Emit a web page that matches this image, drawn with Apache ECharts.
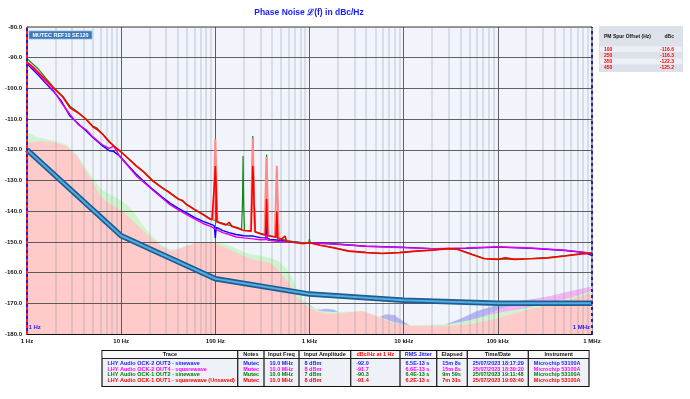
<!DOCTYPE html>
<html><head><meta charset="utf-8">
<script src="https://cdn.jsdelivr.net/npm/echarts@6/dist/echarts.min.js"></script>
<style>html,body{margin:0;padding:0;background:#fff}#c{width:690px;height:399px}</style>
</head><body><div id="c"></div>
<script>
// ---------- DATA ----------
const chartTitle = 'Phase Noise \u2112(f) in dBc/Hz';
const xTickLabels = ['1 Hz','10 Hz','100 Hz','1 kHz','10 kHz','100 kHz','1 MHz'];
const yMin = -180, yMax = -80, yStep = 10;

const refName = 'MUTEC REF10 SE120';
const refTrace = [[1,-120],[10,-148],[100,-162],[1000,-167],[10000,-169],[100000,-170],[1000000,-170]];

const blueTrace = [[1,-92],[1.3,-95.5],[1.6,-98.5],[1.9,-100.9],[2.3,-104],[2.86,-109],[3.5,-111.5],[4.25,-113.9],[5,-116],[6.4,-118.8],[7.5,-120.3],[8.3,-120.5],[9.7,-122.1],[12,-125.3],[14.5,-128],[17,-130],[21.7,-132.9],[27,-135.3],[32.7,-137.3],[40,-139],[49,-140.5],[60,-142],[74,-143.3],[90,-144.3],[97,-144.7],[99,-147],[100,-148.7],[101,-147],[103,-145.3],[120,-146.3],[140,-147],[166,-147.6],[200,-148],[252,-148.1],[300,-148.6],[345,-148.7],[350,-145],[355,-148.8],[380,-149.2],[450,-149.4],[570,-149.8],[700,-150],[860,-150.3],[1000,-150.3],[1770,-150.6],[4000,-151.4],[9100,-151.7],[20000,-152.2],[46000,-152.1],[100000,-151.7],[227000,-152.1],[520000,-152.8],[850000,-153.5],[1000000,-154.5]];

const magentaTrace = [[1,-91.7],[1.3,-95],[1.6,-98.2],[1.9,-100.6],[2.3,-104.5],[2.86,-108.5],[3.5,-111.8],[4.25,-113.5],[5,-115.8],[6.4,-118.5],[7.5,-119.5],[8.3,-118.8],[9,-120.5],[9.7,-122.3],[12,-125.5],[14.5,-128.5],[17,-130.3],[21.7,-133.2],[27,-135.6],[32.7,-137.8],[40,-139.5],[49,-141],[60,-142.5],[74,-144],[90,-145],[100,-145.8],[120,-147],[140,-147.6],[166,-148.4],[200,-148.7],[252,-149],[300,-149.3],[345,-149.2],[350,-147.5],[355,-149.4],[450,-149.8],[570,-150],[700,-150.2],[1000,-150.3],[1770,-150.7],[4000,-151.4],[9100,-151.8],[20000,-152.2],[46000,-152],[100000,-151.6],[227000,-152],[520000,-152.7],[850000,-153.4],[1000000,-153.7]];

const greenTrace = [[1,-90.3],[1.3,-93.5],[1.6,-96.8],[1.9,-99.5],[2.4,-102.5],[2.86,-105.8],[3.5,-107.8],[4.25,-110],[5,-112.3],[5.5,-112.8],[6.4,-115],[7.5,-117.3],[8.5,-118.8],[9.7,-120.3],[12,-122.8],[14.5,-125.2],[17,-126.8],[21.7,-130],[27,-132.2],[32.7,-133.8],[40,-135.8],[49,-137.6],[60,-139.3],[74,-140.9],[90,-142.6],[100,-143],[111,-143.6],[130,-144.3],[166,-145.2],[190,-145.8],[194,-138],[197,-122],[200,-138],[204,-146.2],[240,-146.4],[245,-130],[250,-115.5],[255,-128],[260,-138],[265,-146.6],[300,-147.2],[340,-147.6],[345,-138],[350,-121.5],[355,-138],[360,-147.9],[440,-148.4],[500,-149],[570,-149.6],[700,-150],[860,-150.4],[980,-150.2],[1000,-149],[1020,-150.3],[1290,-151],[1770,-151.8],[2600,-152.9],[4000,-153.4],[5900,-153.7],[9100,-153.4],[13600,-153],[20000,-152.6],[30000,-152.2],[37000,-152.3],[53000,-154],[72000,-155.4],[100000,-155.6],[150000,-155.6],[227000,-155.4],[340000,-155.1],[520000,-154.5],[780000,-153.8],[1000000,-153.6]];

const redTrace = [[1,-91.4],[1.2,-93.5],[1.5,-96.5],[1.9,-99.8],[2.4,-102.8],[2.86,-106.3],[3.5,-108],[4.25,-110.1],[5,-112.5],[5.5,-113.3],[6.4,-115],[7.5,-117.5],[8.5,-119],[9.7,-120.4],[12,-123],[14.5,-125.3],[17,-127],[21.7,-130.2],[27,-132.3],[32.7,-134],[40,-136],[45,-136.5],[49,-137.8],[60,-139.5],[74,-141.1],[85,-142.3],[92,-142.8],[96,-143],[98.5,-130],[100,-125.3],[101.5,-130],[104,-143.5],[111,-143.8],[130,-144.5],[140,-143.6],[150,-145],[166,-145.4],[200,-146.3],[240,-146.5],[246,-133],[250,-125.3],[254,-130],[258,-138],[265,-146.8],[300,-147.3],[340,-147.8],[346,-142],[350,-136],[354,-142],[360,-148],[380,-148.1],[440,-148.5],[450,-140],[460,-148.8],[500,-149.2],[550,-148.1],[570,-149.8],[700,-150.2],[860,-150.6],[1000,-150.3],[1290,-151.1],[1770,-151.9],[2600,-153],[4000,-153.5],[5900,-153.8],[9100,-153.5],[13600,-153],[20000,-152.7],[30000,-152.2],[37000,-152.4],[53000,-154.1],[72000,-155.5],[100000,-155.7],[120000,-155.2],[125000,-155.8],[150000,-155.7],[227000,-155.5],[340000,-155.2],[520000,-154.6],[780000,-153.9],[1000000,-153.8]];

// PM spur table (max-hold spur peaks on red trace)
const spurOffsets = [100, 250, 350, 450];
const spurDbc = [-116.6, -116.3, -122.3, -125.2];
const redSpurMax = [
  [[95,-143],[100,-116.6],[105,-143.5]],
  [[238,-146.5],[250,-116.3],[262,-146.8]],
  [[333,-147.8],[350,-122.3],[367,-148]],
  [[428,-148.5],[450,-125.2],[472,-148.8]]
];

// noise-floor shaded areas
const pinkFloor = [[1,-117.5],[1.4,-117.2],[1.9,-117.5],[2.6,-118.8],[3.4,-122.1],[4.3,-127.5],[5.2,-131.5],[6,-135.1],[7.5,-137.5],[9.6,-139.4],[12,-141.8],[14.6,-144.3],[18,-147],[22,-149.2],[27,-151.5],[33,-153],[40,-152.5],[49,-151.4],[60,-150.5],[70,-150.2],[85,-150.2],[103,-150.5],[130,-152],[168,-153.5],[210,-154.8],[252,-155.7],[300,-156.2],[377,-156.8],[450,-158.5],[500,-160.5],[565,-162.2],[650,-165],[733,-167.7],[850,-170],[1000,-171.5],[1290,-173],[1770,-173.6],[2700,-172.9],[3700,-172.6],[5100,-174.2],[7700,-176.3],[11500,-177.3],[30000,-177.3],[50000,-176.8],[76000,-175.8],[160000,-173.1],[350000,-170.4],[680000,-168.2],[1000000,-166.6]];
const greenFloor = [[1,-114.2],[1.3,-116],[1.9,-117],[2.6,-118.3],[3.4,-121.5],[4.3,-126.5],[5.2,-130],[6,-132.5],[7.5,-134.5],[9.6,-136.2],[12,-138.5],[14.6,-141.5],[18,-145.5],[22,-148.5],[27,-151],[33,-152.5],[40,-152.2],[49,-151.2],[60,-150.3],[85,-150],[103,-150],[130,-150.8],[168,-152.2],[210,-153.5],[252,-154.2],[300,-154.5],[377,-155.2],[450,-156],[500,-157],[565,-158.5],[650,-161.5],[733,-165],[850,-169],[1000,-170.8],[1290,-172.5],[1770,-172.8],[2700,-172.7],[3700,-172.5],[5100,-174],[7700,-176],[11500,-177.2],[30000,-176.8],[50000,-175.5],[100000,-173.2],[200000,-171.5],[400000,-169.5],[700000,-167.5],[1000000,-165.8]];
const lavenderFloor = [[1,-130],[10,-150],[30,-158],[100,-158],[300,-162],[600,-167],[1000,-172],[1300,-172],[1500,-171.8],[1800,-172],[2200,-173.5],[3000,-175],[5000,-175],[6500,-173.6],[8000,-173.8],[10000,-176],[12000,-177.5],[25000,-177.5],[40000,-175],[60000,-172.5],[100000,-170.5],[150000,-169.5],[250000,-168.5],[500000,-167],[1000000,-165.5]];
const magentaFloor = [[1,-130],[10,-150],[100,-158],[300,-162],[600,-166],[800,-168.5],[1000,-170.5],[1300,-172.8],[1800,-173.2],[3000,-173.5],[5000,-174.8],[8000,-176.5],[12000,-177.4],[30000,-177.2],[60000,-175],[100000,-172],[200000,-169.5],[400000,-167.3],[700000,-165.5],[1000000,-164.5]];

// bottom legend table
const tableHeaders = ['Trace','Notes','Input Freq','Input Amplitude','dBc/Hz at 1 Hz','RMS Jitter','Elapsed','Time/Date','Instrument'];
const traceNames = ['LHY Audio OCK-2 OUT3 - sinewave','LHY Audio OCK-2 OUT4 - squarewave','LHY Audio OCK-1 OUT2 - sinewave','LHY Audio OCK-1 OUT1 - squarewave (Unsaved)'];
const notes = ['Mutec','Mutec','Mutec','Mutec'];
const inputFreq = ['10.0 MHz','10.0 MHz','10.0 MHz','10.0 MHz'];
const inputAmp = ['8 dBm','8 dBm','7 dBm','8 dBm'];
const dbcAt1Hz = ['-92.0','-91.7','-90.3','-91.4'];
const rmsJitter = ['6.5E-13 s','6.6E-13 s','6.4E-13 s','6.2E-13 s'];
const elapsed = ['15m 8s','15m 8s','9m 59s','7m 31s'];
const timeDate = ['25/07/2023 18:17:29','25/07/2023 18:39:20','25/07/2023 19:11:48','25/07/2023 19:03:40'];
const instrument = ['Microchip 53100A','Microchip 53100A','Microchip 53100A','Microchip 53100A'];

// ---------- STYLE ----------
const FONT = '"Liberation Sans", Arial, sans-serif';
const traceColors = ['#0000ff','#e600e6','#138a13','#ff0000'];
const traceWidths = [1.4, 1.4, 1.2, 1.6];
const textColors = ['#1a1aff','#ff00ff','#008000','#ff0000'];

const chart = echarts.init(document.getElementById('c'), null, {renderer:'canvas'});

const minorX = [];
for (let d = 1; d < 1e6; d *= 10) for (let k = 2; k <= 9; k++) minorX.push(d*k);
const majorX = [10,100,1000,10000,100000];
const majorY = [];
for (let v = yMin + yStep; v < yMax; v += yStep) majorY.push(v);

function areaSeries(data, color) {
  return {type:'line', data, showSymbol:false, symbol:'none', z:2, silent:true,
    lineStyle:{width:0}, areaStyle:{color, opacity:1, origin:'start'}};
}
function traceSeries(data, i, z) {
  return {type:'line', data, showSymbol:false, symbol:'none', z, silent:true,
    lineStyle:{width:traceWidths[i], color:traceColors[i]}};
}

const series = [
  areaSeries(lavenderFloor, '#b6b6f6'),
  areaSeries(magentaFloor, '#f3b6f3'),
  areaSeries(greenFloor, '#cff5cf'),
  areaSeries(pinkFloor, '#ffcaca'),
  {type:'line', data:[], z:3, silent:true,
    markLine:{silent:true, symbol:['none','none'], z:3, animation:false, label:{show:false}, emphasis:{disabled:true},
      data: minorX.map(v=>({xAxis:v, lineStyle:{color:'rgba(130,140,158,0.28)', width:1.6, type:'solid'}}))
        .concat(majorX.map(v=>({xAxis:v, lineStyle:{color:'rgba(70,70,70,0.85)', width:1, type:'solid'}})))
        .concat(majorY.map(v=>({yAxis:v, lineStyle:{color:'rgba(70,70,70,0.85)', width:1, type:'solid'}})))
    }},
  {type:'line', data:refTrace, showSymbol:false, z:4, silent:true, lineStyle:{width:5.5, color:'#1d5d94'}},
  {type:'line', data:refTrace, showSymbol:false, z:4, silent:true, lineStyle:{width:2, color:'#55acdf'}},
  traceSeries(blueTrace, 0, 6),
  traceSeries(magentaTrace, 1, 7),
  traceSeries(greenTrace, 2, 8),
  ...redSpurMax.map(d => ({type:'line', data:d, showSymbol:false, z:8.5, silent:true, lineStyle:{width:2, color:'#ff8a8a'}})),
  traceSeries(redTrace, 3, 9),
  {type:'line', data:[], z:11, silent:true,
    markLine:{silent:true, symbol:['none','none'], z:11, animation:false, label:{show:false}, emphasis:{disabled:true},
      data:[
        {xAxis:1, lineStyle:{color:'#ff2020', width:2, type:[3,3]}},
        {xAxis:1, lineStyle:{color:'#2020d0', width:2, type:[3,3], dashOffset:3}},
        {xAxis:1000000, lineStyle:{color:'#2020c0', width:2, type:[3,3]}}
      ]}}
];

// ---------- graphics (titles, tables) ----------
const g = [];
function txt(x, y, s, fill, size, align, weight) {
  g.push({type:'text', x, y, silent:true, z:50, style:{text:s, fill, font:(weight||'bold')+' '+size+'px '+FONT,
    textAlign:align||'left', textVerticalAlign:'middle', verticalAlign:'middle'}});
}
function rect(x, y, w, h, fill, stroke, lw) {
  g.push({type:'rect', silent:true, z:40, shape:{x, y, width:w, height:h}, style:{fill, stroke:stroke||null, lineWidth:lw||0}});
}
function line(x1, y1, x2, y2, stroke, lw) {
  g.push({type:'line', silent:true, z:45, shape:{x1, y1, x2, y2}, style:{stroke, lineWidth:lw}});
}

txt(309, 13, chartTitle, '#1a1aff', 8.5, 'center', 'bold');

// MUTEC label
rect(29, 31, 63, 8, '#3a78b8', '#8fb8e0', 0.8);
txt(60.5, 35.2, refName, '#ffffff', 5.5, 'center');

// 1 Hz / 1 MHz labels
txt(28.5, 327, '1 Hz', '#1a1aff', 6, 'left');
txt(590, 327, '1 MHz', '#1a1aff', 6, 'right');

// right spur table
rect(599, 26, 84, 46, '#dde2ea');
txt(604, 37, 'PM Spur Offset (Hz)', '#111', 5, 'left');
txt(674, 37, 'dBc', '#111', 5, 'right');
for (let i = 0; i < spurOffsets.length; i++) {
  const yc = 49.2 + i*6.1;
  rect(600, yc-3, 82, 6, i % 2 === 0 ? '#eceff5' : '#dde2ea');
  txt(604, yc, String(spurOffsets[i]), '#ff0000', 5, 'left');
  txt(674, yc, spurDbc[i].toFixed(1), '#ff0000', 5, 'right');
}

// bottom table
const colX = [102, 237.7, 264, 299, 350.7, 400, 436.7, 467.3, 528.3, 589];
const tTop = 350.5, tHead = 358.5, tBot = 386.5;
rect(colX[0], tTop, colX[9]-colX[0], tBot-tTop, '#eef2f8', '#111', 1.2);
rect(colX[0]+0.6, tTop+0.6, colX[9]-colX[0]-1.2, tHead-tTop-0.6, '#f8f8f8');
line(colX[0], tHead, colX[9], tHead, '#222', 1);
for (let i = 1; i < 9; i++) line(colX[i], tTop, colX[i], tBot, '#222', 1.3);
const headColors = ['#111','#111','#111','#111','#ff0000','#1a1aff','#111','#111','#111'];
tableHeaders.forEach((h, i) => txt((colX[i]+colX[i+1])/2, (tTop+tHead)/2+0.3, h, headColors[i], 5.5, 'center'));
const cols = [traceNames, notes, inputFreq, inputAmp, dbcAt1Hz, rmsJitter, elapsed, timeDate, instrument];
for (let r = 0; r < 4; r++) {
  const yc = 363.3 + r*5.75;
  cols.forEach((c, i) => txt(colX[i]+5.5, yc, c[r], textColors[r], 5.5, 'left'));
}

const option = {
  animation:false,
  backgroundColor:'#ffffff',
  grid:{left:27, right:98, top:27, bottom:65, containLabel:false, show:true, backgroundColor:'#f1f5fb', borderColor:'#333', borderWidth:1},
  xAxis:{type:'log', logBase:10, min:1, max:1000000,
    axisLine:{show:true, onZero:false, lineStyle:{color:'#111', width:2}},
    axisTick:{show:false}, minorTick:{show:false}, splitLine:{show:false}, minorSplitLine:{show:false},
    axisLabel:{margin:4, fontSize:6, fontWeight:'bold', fontFamily:FONT, color:'#111', showMinLabel:true, showMaxLabel:true,
      formatter:v=>xTickLabels[Math.round(Math.log10(v))]}},
  yAxis:{type:'value', min:yMin, max:yMax, interval:yStep,
    axisLine:{show:true, lineStyle:{color:'#333', width:1}}, axisTick:{show:false}, splitLine:{show:false},
    axisLabel:{margin:5, fontSize:6, fontWeight:'bold', fontFamily:FONT, color:'#111', formatter:v=>v.toFixed(1)}},
  series,
  graphic:g
};
chart.setOption(option);
</script></body></html>
